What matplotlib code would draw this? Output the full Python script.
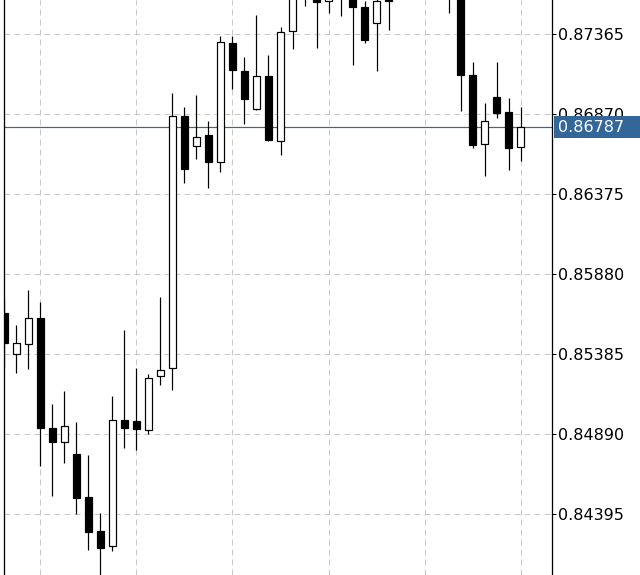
"""
Candlestick chart, terminal style: price scale on the right, dashed grid,
last price marked with a horizontal line and a blue price tag.
"""

import matplotlib
matplotlib.use("Agg")
import matplotlib.pyplot as plt
import matplotlib.transforms as mtransforms
from matplotlib.patches import Rectangle

# --- Data -----------------------------------------------------------------

opens = [
    0.85637, 0.85383, 0.85449, 0.85606, 0.84925, 0.84842, 0.84766, 0.84498,
    0.84290, 0.84195, 0.84975, 0.84969, 0.84917, 0.85247, 0.85297, 0.86856,
    0.86670, 0.86738, 0.86571, 0.87307, 0.87136, 0.86899, 0.87103, 0.86705,
    0.87382, 0.87610, 0.87660, 0.87569, 0.87620, 0.87610, 0.87532, 0.87435,
    0.87640, 0.87620, 0.87690, 0.87660, 0.87700, 0.87650, 0.87620, 0.87111,
    0.86686, 0.86973, 0.86880, 0.86664,
]
highs = [
    0.85730, 0.85563, 0.85779, 0.85705, 0.85074, 0.85156, 0.84962, 0.84758,
    0.84399, 0.85125, 0.85534, 0.85298, 0.85259, 0.85738, 0.86998, 0.86911,
    0.86986, 0.86825, 0.87354, 0.87354, 0.87221, 0.87483, 0.87235, 0.87406,
    0.87672, 0.87690, 0.87700, 0.87680, 0.87660, 0.87640, 0.87569, 0.87610,
    0.87680, 0.87720, 0.87760, 0.87740, 0.87780, 0.87700, 0.87660, 0.87192,
    0.86936, 0.87192, 0.86967, 0.86911,
]
lows = [
    0.85303, 0.85266, 0.85294, 0.84694, 0.84506, 0.84712, 0.84397, 0.84174,
    0.83956, 0.84168, 0.84805, 0.84791, 0.84892, 0.85195, 0.85164, 0.86445,
    0.86593, 0.86414, 0.86513, 0.87027, 0.86810, 0.86897, 0.86705, 0.86618,
    0.87274, 0.87540, 0.87280, 0.87497, 0.87475, 0.87175, 0.87311, 0.87138,
    0.87392, 0.87600, 0.87640, 0.87610, 0.87620, 0.87497, 0.86890, 0.86661,
    0.86488, 0.86847, 0.86525, 0.86581,
]
closes = [
    0.85456, 0.85451, 0.85606, 0.84929, 0.84842, 0.84938, 0.84496, 0.84285,
    0.84186, 0.84975, 0.84929, 0.84923, 0.85235, 0.85284, 0.86856, 0.86532,
    0.86726, 0.86575, 0.87314, 0.87140, 0.86961, 0.87103, 0.86711, 0.87376,
    0.87640, 0.87660, 0.87565, 0.87640, 0.87595, 0.87534, 0.87330, 0.87567,
    0.87569, 0.87690, 0.87660, 0.87700, 0.87650, 0.87640, 0.87113, 0.86680,
    0.86825, 0.86878, 0.86661, 0.86787,
]

price_ticks = [0.84395, 0.84890, 0.85385, 0.85880, 0.86375, 0.86870, 0.87365]

# --- Style ----------------------------------------------------------------

GRID_COLOR = "#c8c8c8"
TAG_COLOR = "#336699"
PX = 0.72  # one pixel in points at dpi 100
FONT_SIZE = 11.5


def main():
    fig = plt.figure(figsize=(6.4, 5.75), dpi=100)
    ax = fig.add_axes([3.5 / 640, 0, 548 / 640, 1])

    n = len(opens)
    xs = list(range(n))

    # wicks first, bodies on top so white bodies hide the wick
    ax.vlines(xs, lows, highs, color="black", linewidth=PX * 1.2, zorder=3)
    bottoms = [min(o, c) for o, c in zip(opens, closes)]
    heights = [abs(c - o) for o, c in zip(opens, closes)]
    faces = ["white" if c >= o else "black" for o, c in zip(opens, closes)]
    ax.bar(xs, heights, bottom=bottoms, width=0.62, color=faces,
           edgecolor="black", linewidth=PX * 1.2, zorder=4)

    last = closes[-1]
    ax.axhline(last, color=TAG_COLOR, linewidth=PX * 1.2, zorder=2)

    # axes range
    ax.set_xlim(-0.08, 45.58)
    ax.set_ylim(0.840176, 0.875754)

    # grid
    ax.set_xticks(range(3, n, 8))
    ax.set_yticks(price_ticks)
    ax.set_yticklabels([f"{p:.5f}" for p in price_ticks])
    ax.grid(True, color=GRID_COLOR, linewidth=PX, linestyle=(0, (6, 4)),
            zorder=1)
    ax.set_axisbelow(True)

    ax.yaxis.tick_right()
    ax.tick_params(axis="x", length=0, labelbottom=False)
    ax.tick_params(axis="y", direction="out", length=3, width=PX, pad=2,
                   labelsize=FONT_SIZE, colors="black")

    for side in ("top", "bottom"):
        ax.spines[side].set_visible(False)
    for side in ("left", "right"):
        ax.spines[side].set_linewidth(PX * 1.3)
        ax.spines[side].set_color("black")

    # price tag on the scale
    ymin, ymax = ax.get_ylim()
    tag_h = 22 / 575 * (ymax - ymin)
    trans = mtransforms.blended_transform_factory(ax.transAxes, ax.transData)
    ax.add_patch(Rectangle((1.0046, last - tag_h / 2), 0.2, tag_h,
                           transform=trans, facecolor=TAG_COLOR,
                           edgecolor="none", clip_on=False, zorder=10))
    ax.text(1.0115, last, f"{last:.5f}", transform=trans, color="white",
            fontsize=FONT_SIZE, va="center", ha="left", clip_on=False,
            zorder=11)

    fig.savefig("out.png", dpi=100)


if __name__ == "__main__":
    main()
